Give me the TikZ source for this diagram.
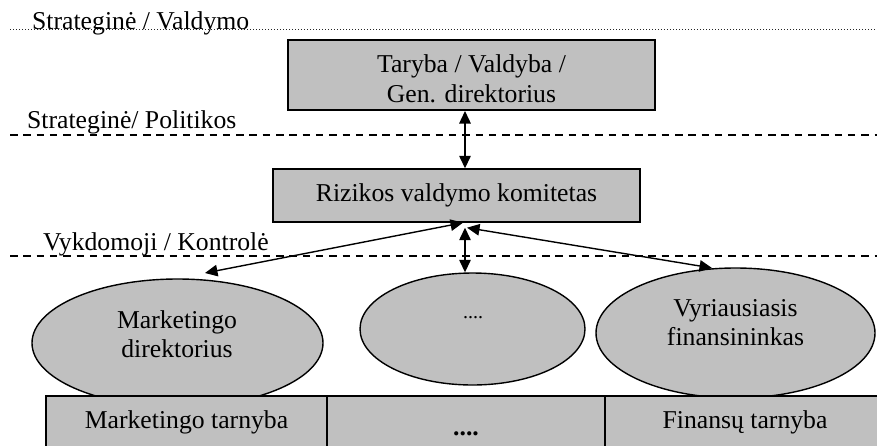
\documentclass[tikz,border=0pt]{standalone}
\usepackage{fontspec}
\setmainfont{Liberation Serif}
\usetikzlibrary{shapes.geometric,arrows.meta}
\definecolor{boxgray}{HTML}{C0C0C0}
\tikzset{
  lbl/.style={font=\fontsize{25.7pt}{29.5pt}\selectfont, inner sep=0pt},
  boxnode/.style={draw, fill=boxgray, line width=1.4pt, rectangle, inner sep=0pt, lbl, align=center},
  ellnode/.style={draw, fill=boxgray, line width=1.4pt, ellipse, inner sep=0pt},
  levelline/.style={line width=1.5pt, dash pattern=on 7.5pt off 5.8pt},
  topline/.style={line width=1pt, dash pattern=on 1pt off 2pt, black!85},
  link/.style={line width=1.4pt, {Triangle[length=12.5pt,width=11.5pt]}-{Triangle[length=12.5pt,width=11.5pt]}},
}
\begin{document}
\begin{tikzpicture}[x=1pt,y=-1pt]
\useasboundingbox (0,0) rectangle (877,445);

% level separators
\coordinate (dotL) at (10,29);  \coordinate (dotR) at (877,29);
\coordinate (polL) at (10,135); \coordinate (polR) at (877,135);
\coordinate (vykL) at (10,256); \coordinate (vykR) at (877,256);
\draw[topline] (dotL) -- (dotR);
\draw[levelline] (polL) -- (polR);
\draw[levelline] (vykL) -- (vykR);

% level names
\node[lbl, anchor=base west] (lvA) at (32,29) {Strateginė / Valdymo};
\node[lbl, anchor=base west] (lvB) at (27,128) {Strateginė/ Politikos};
\node[lbl, anchor=base west] (lvC) at (43,250) {Vykdomoji / Kontrolė};

% board and risk committee
\node[boxnode, line width=2pt, minimum width=367pt, minimum height=70pt] (tar) at (471.5,75) {};
\node[lbl, align=center] (tarT) at (471.5,79) {Taryba / Valdyba /\\Gen. direktorius};
\node[boxnode, minimum width=367pt, minimum height=53pt] (riz) at (456.5,195.5)
  {Rizikos valdymo komitetas};

% executives
\node[ellnode, minimum width=291pt, minimum height=128pt] (mkt) at (177.5,343) {};
\node[lbl, align=center] (mktT) at (177,334) {Marketingo\\direktorius};
\node[ellnode, minimum width=225pt, minimum height=112pt] (mid) at (472.5,329) {};
\node[font=\fontsize{20pt}{24pt}\selectfont, inner sep=0pt, anchor=base] (midT) at (473,318) {....};
\node[ellnode, minimum width=279pt, minimum height=130pt] (fin) at (735.5,333) {};
\node[lbl, align=center] (finT) at (735.5,322.5) {Vyriausiasis\\finansininkas};

% services
\node[boxnode, minimum width=281pt, minimum height=52pt] (mktS) at (186.5,422) {Marketingo tarnyba};
\node[boxnode, minimum width=278pt, minimum height=52pt] (midS) at (466,422) {};
\node[font=\fontsize{25.7pt}{29.5pt}\selectfont\bfseries, inner sep=0pt, anchor=base] (midST) at (466,435) {....};
\node[boxnode, minimum width=280pt, minimum height=52pt] (finS) at (745,422) {Finansų tarnyba};

% links
\draw[link] ([xshift=-6.5pt]tar.south) -- ([xshift=8.5pt]riz.north);
\draw[link] ([xshift=6.5pt]riz.south) -- ([xshift=27.5pt,yshift=70pt]mkt.center);
\draw[link] ([xshift=8.5pt,yshift=-5pt]riz.south) -- ([xshift=-7.5pt]mid.north);
\draw[link] ([xshift=10.5pt,yshift=-5pt]riz.south) -- ([xshift=-23.5pt,yshift=65pt]fin.center);
\end{tikzpicture}
\end{document}
